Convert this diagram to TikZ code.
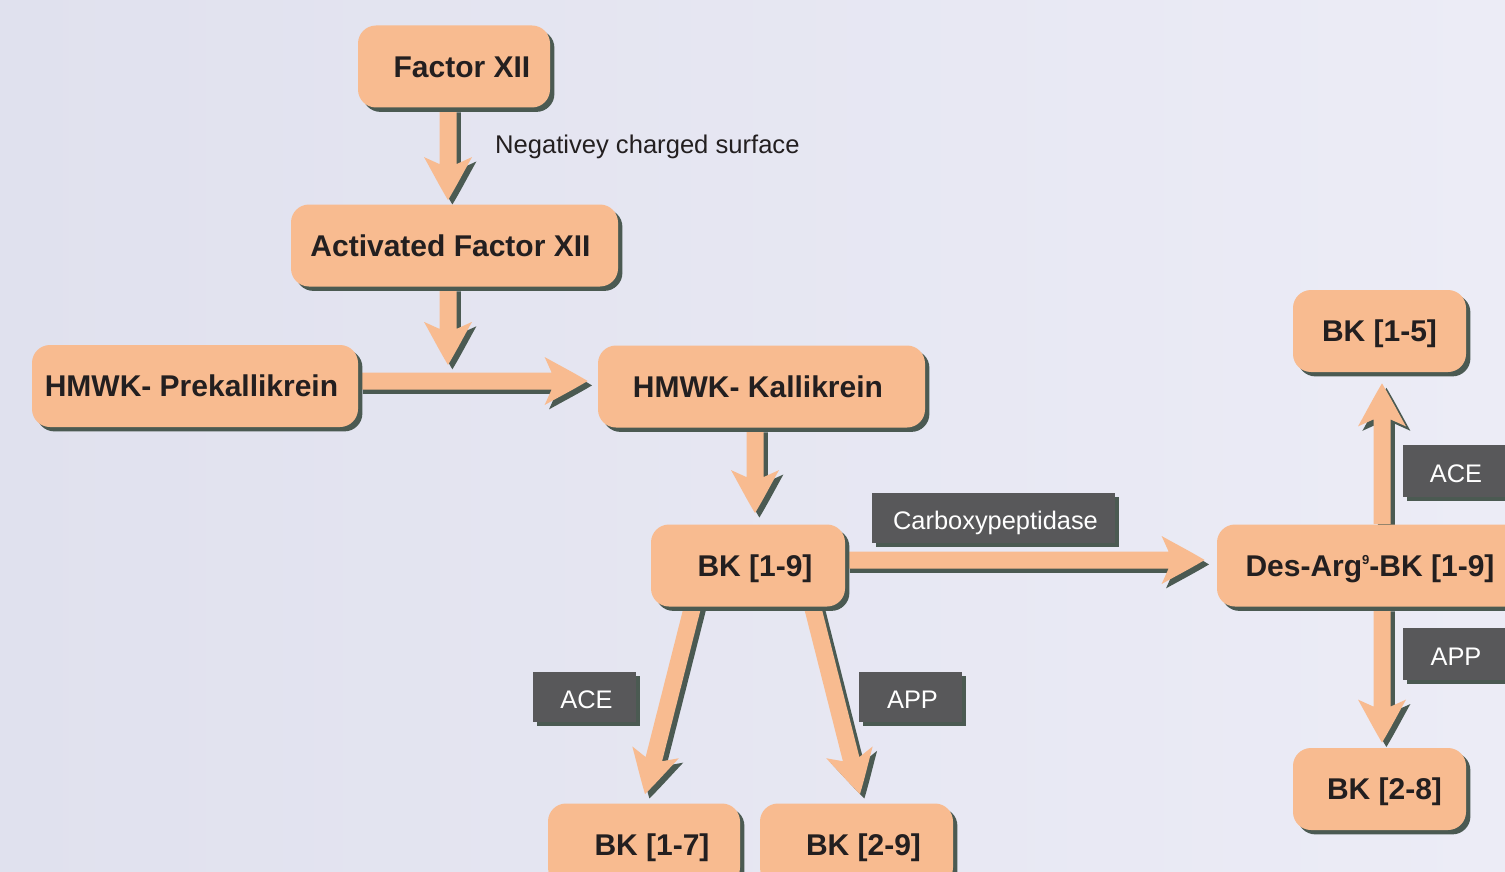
\documentclass[tikz,border=0pt]{standalone}
\usepackage{fontspec}
\setmainfont{Liberation Sans}
\usetikzlibrary{positioning, calc, shadows, backgrounds}

\definecolor{peach}{HTML}{F8BB90}
\definecolor{shadowgreen}{HTML}{4B5A52}
\definecolor{labelgray}{HTML}{58585A}
\definecolor{bgleft}{HTML}{E0E1EE}
\definecolor{bgright}{HTML}{ECECF6}
\definecolor{inkdark}{HTML}{231F20}

\pgfdeclarelayer{back}
\pgfdeclarelayer{arrowlayer}
\pgfsetlayers{back,arrowlayer,main}

% dicker Pfeil mit Widerhaken-Spitze und Schatten, von #1 nach #2
\newcommand{\fatarrow}[2]{%
	\path let \p1=($(#2)-(#1)$) in
	\pgfextra{\pgfmathsetmacro\arrang{atan2(\y1,\x1)}%
		\pgfmathsetmacro\arrlen{veclen(\x1,\y1)}%
		\global\let\arrang\arrang\global\let\arrlen\arrlen};
	\foreach \dx/\dy/\col in {2.2/-2.2/shadowgreen, 0/0/peach} {
		\fill[\col, shift={(#1)}, xshift=\dx pt, yshift=\dy pt, rotate=\arrang, x=1pt, y=1pt]
		(0,-4.25) -- (\arrlen-18,-4.25) -- (\arrlen-21.5,-12)
		.. controls (\arrlen-14,-7.8) and (\arrlen-7,-4.2) .. (\arrlen,0)
		.. controls (\arrlen-7,4.2) and (\arrlen-14,7.8) .. (\arrlen-21.5,12)
		-- (\arrlen-18,4.25) -- (0,4.25) -- cycle;
	}
}

\begin{document}
\begin{tikzpicture}[x=0.5pt, y=-0.5pt]
	
	% Stile
	\tikzset{
		molbox/.style={
			rounded corners=9pt, fill=peach, text=inkdark,
			font=\fontsize{15}{18}\selectfont\bfseries,
			minimum height=41pt, inner sep=0pt,
			text height=10.8pt, text depth=0pt,
			drop shadow={shadow xshift=2.2pt, shadow yshift=-2.2pt, fill=shadowgreen, opacity=1}
		},
		enzyme/.style={
			fill=labelgray, text=white,
			font=\fontsize{12.7}{15}\selectfont,
			minimum height=25pt, inner sep=0pt,
			text height=11pt, text depth=0pt,
			drop shadow={shadow xshift=2.2pt, shadow yshift=-2.2pt, fill=shadowgreen, opacity=1}
		}
	}
	
	\useasboundingbox (0,0) rectangle (1505,872);
	\begin{pgfonlayer}{back}
		\shade[left color=bgleft, right color=bgright] (0,0) rectangle (1505,872);
	\end{pgfonlayer}
	
	% Kaskade
	\node[molbox, minimum width=96pt] (f12) at (454,66.5) {\hspace*{8pt}Factor XII};
	\node[molbox, minimum width=163.5pt] (a12) at (454.5,245.5) {Activated Factor XII\hspace*{4pt}};
	\node[molbox, minimum width=163pt] (pk) at (195,386) {HMWK- Prekallikrein\hspace*{3.5pt}};
	\node[molbox, minimum width=163.5pt] (kal) at (761.5,386.5) {HMWK- Kallikrein\hspace*{3.5pt}};
	\node[molbox, minimum width=97pt] (bk19) at (748,565.5) {\hspace*{7pt}BK [1-9]};
	\node[molbox, minimum width=96pt] (bk17) at (644,844.5) {\hspace*{8pt}BK [1-7]};
	\node[molbox, minimum width=96.5pt] (bk29) at (856.5,844.5) {\hspace*{7pt}BK [2-9]};
	\node[molbox, minimum width=153pt] (des) at (1370,565.5)
		{Des-Arg\raisebox{0.75ex}{\fontsize{6.5}{7}\selectfont 9}-BK [1-9]};
	\node[molbox, minimum width=86.5pt] (bk15) at (1379.5,331) {BK [1-5]};
	\node[molbox, minimum width=86.5pt] (bk28) at (1379.5,789) {\hspace*{5pt}BK [2-8]};
	
	% Enzyme
	\node[enzyme, minimum width=51.5pt] (ace1) at (584.5,697) {\hspace*{2pt}ACE};
	\node[enzyme, minimum width=51.5pt] (app1) at (910.5,697) {\hspace*{2pt}APP};
	\node[enzyme, minimum width=121.5pt] (cpase) at (993.5,518) {\hspace*{2pt}Carboxypeptidase};
	\node[enzyme, minimum width=53pt, minimum height=26pt] (ace2) at (1456,471) {ACE};
	\node[enzyme, minimum width=53pt, minimum height=26pt] (app2) at (1456,654) {APP};
	\node[text=inkdark, font=\fontsize{12.8}{15}\selectfont, anchor=west] (surf) at (488,147) {Negativey charged surface};
	
	% Pfeilenden
	\coordinate (s1) at ($(f12.south)+(-6,0)$);
	\coordinate (e1) at ($(a12.north)+(-6.5,-4)$);
	\coordinate (s2) at ($(a12.south)+(-6.5,0)$);
	\coordinate (jn) at ($(a12.south)+(-6.5,78)$);
	\coordinate (s3) at ($(pk.east)+(0,-5)$);
	\coordinate (e3) at ($(kal.west)+(-10,-5.5)$);
	\coordinate (s4) at ($(kal.south)+(-6.5,0)$);
	\coordinate (e4) at ($(bk19.north)+(7,-11)$);
	\coordinate (s5) at ($(bk19.east)+(0,-5.5)$);
	\coordinate (e5) at ($(des.west)+(-12,-5.5)$);
	\coordinate (s6) at ($(bk19.south)+(-54,-6)$);
	\coordinate (e6) at ($(bk17.north)+(1,-9)$);
	\coordinate (s7) at ($(bk19.south)+(63,-6)$);
	\coordinate (e7) at ($(bk29.north)+(3.5,-9)$);
	\coordinate (s8) at ($(des.north)+(12,0)$);
	\coordinate (e8) at ($(bk15.south)+(2.5,11)$);
	\coordinate (s9) at ($(des.south)+(12,0)$);
	\coordinate (e9) at ($(bk28.north)+(2.5,-5)$);
	
	\begin{pgfonlayer}{arrowlayer}
		\fatarrow{s1}{e1}
		\fatarrow{s2}{jn}
		\fatarrow{s3}{e3}
		\fatarrow{s4}{e4}
		\fatarrow{s5}{e5}
		\fatarrow{s6}{e6}
		\fatarrow{s7}{e7}
		\fatarrow{s8}{e8}
		\fatarrow{s9}{e9}
	\end{pgfonlayer}
	
\end{tikzpicture}
\end{document}
